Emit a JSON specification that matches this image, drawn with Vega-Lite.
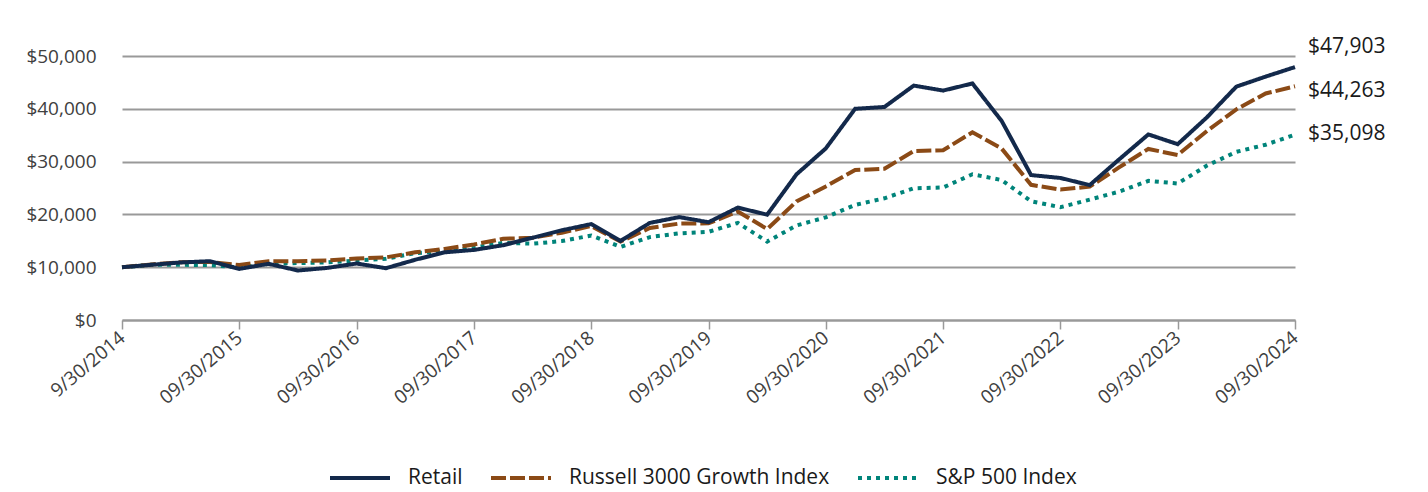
{
  "$schema": "https://vega.github.io/schema/vega-lite/v6.json",
  "width": 1173,
  "height": 264,
  "autosize": "none",
  "padding": {"left": 122, "top": 56, "right": 133, "bottom": 172},
  "background": "white",
  "config": {
    "view": {"stroke": null},
    "font": "Open Sans",
    "axis": {"labelFont": "Open Sans", "titleFont": "Open Sans"},
    "legend": {"labelFont": "Open Sans"}
  },
  "data": {
    "values": [
      {"date": "9/30/2014", "series": "S&P 500 Index", "value": 10000},
      {"date": "12/31/2014", "series": "S&P 500 Index", "value": 10450},
      {"date": "03/31/2015", "series": "S&P 500 Index", "value": 10450},
      {"date": "06/30/2015", "series": "S&P 500 Index", "value": 10400},
      {"date": "09/30/2015", "series": "S&P 500 Index", "value": 9940},
      {"date": "12/31/2015", "series": "S&P 500 Index", "value": 10640},
      {"date": "03/31/2016", "series": "S&P 500 Index", "value": 10780},
      {"date": "06/30/2016", "series": "S&P 500 Index", "value": 10900},
      {"date": "09/30/2016", "series": "S&P 500 Index", "value": 11250},
      {"date": "12/31/2016", "series": "S&P 500 Index", "value": 11600},
      {"date": "03/31/2017", "series": "S&P 500 Index", "value": 12650},
      {"date": "06/30/2017", "series": "S&P 500 Index", "value": 13100},
      {"date": "09/30/2017", "series": "S&P 500 Index", "value": 13700},
      {"date": "12/31/2017", "series": "S&P 500 Index", "value": 14600},
      {"date": "03/31/2018", "series": "S&P 500 Index", "value": 14450},
      {"date": "06/30/2018", "series": "S&P 500 Index", "value": 14950},
      {"date": "09/30/2018", "series": "S&P 500 Index", "value": 16000},
      {"date": "12/31/2018", "series": "S&P 500 Index", "value": 13850},
      {"date": "03/31/2019", "series": "S&P 500 Index", "value": 15700},
      {"date": "06/30/2019", "series": "S&P 500 Index", "value": 16400},
      {"date": "09/30/2019", "series": "S&P 500 Index", "value": 16700},
      {"date": "12/31/2019", "series": "S&P 500 Index", "value": 18400},
      {"date": "03/31/2020", "series": "S&P 500 Index", "value": 14850},
      {"date": "06/30/2020", "series": "S&P 500 Index", "value": 17900},
      {"date": "09/30/2020", "series": "S&P 500 Index", "value": 19450},
      {"date": "12/31/2020", "series": "S&P 500 Index", "value": 21800},
      {"date": "03/31/2021", "series": "S&P 500 Index", "value": 23050},
      {"date": "06/30/2021", "series": "S&P 500 Index", "value": 24950},
      {"date": "09/30/2021", "series": "S&P 500 Index", "value": 25100},
      {"date": "12/31/2021", "series": "S&P 500 Index", "value": 27600},
      {"date": "03/31/2022", "series": "S&P 500 Index", "value": 26500},
      {"date": "06/30/2022", "series": "S&P 500 Index", "value": 22500},
      {"date": "09/30/2022", "series": "S&P 500 Index", "value": 21350},
      {"date": "12/31/2022", "series": "S&P 500 Index", "value": 22800},
      {"date": "03/31/2023", "series": "S&P 500 Index", "value": 24300},
      {"date": "06/30/2023", "series": "S&P 500 Index", "value": 26350},
      {"date": "09/30/2023", "series": "S&P 500 Index", "value": 25850},
      {"date": "12/31/2023", "series": "S&P 500 Index", "value": 29250},
      {"date": "03/31/2024", "series": "S&P 500 Index", "value": 31850},
      {"date": "06/30/2024", "series": "S&P 500 Index", "value": 33200},
      {"date": "09/30/2024", "series": "S&P 500 Index", "value": 35098},
      {"date": "9/30/2014", "series": "Russell 3000 Growth Index", "value": 10000},
      {"date": "12/31/2014", "series": "Russell 3000 Growth Index", "value": 10520},
      {"date": "03/31/2015", "series": "Russell 3000 Growth Index", "value": 10950},
      {"date": "06/30/2015", "series": "Russell 3000 Growth Index", "value": 11000},
      {"date": "09/30/2015", "series": "Russell 3000 Growth Index", "value": 10400},
      {"date": "12/31/2015", "series": "Russell 3000 Growth Index", "value": 11140},
      {"date": "03/31/2016", "series": "Russell 3000 Growth Index", "value": 11140},
      {"date": "06/30/2016", "series": "Russell 3000 Growth Index", "value": 11270},
      {"date": "09/30/2016", "series": "Russell 3000 Growth Index", "value": 11650},
      {"date": "12/31/2016", "series": "Russell 3000 Growth Index", "value": 11860},
      {"date": "03/31/2017", "series": "Russell 3000 Growth Index", "value": 12820},
      {"date": "06/30/2017", "series": "Russell 3000 Growth Index", "value": 13460},
      {"date": "09/30/2017", "series": "Russell 3000 Growth Index", "value": 14300},
      {"date": "12/31/2017", "series": "Russell 3000 Growth Index", "value": 15380},
      {"date": "03/31/2018", "series": "Russell 3000 Growth Index", "value": 15580},
      {"date": "06/30/2018", "series": "Russell 3000 Growth Index", "value": 16540},
      {"date": "09/30/2018", "series": "Russell 3000 Growth Index", "value": 17800},
      {"date": "12/31/2018", "series": "Russell 3000 Growth Index", "value": 14850},
      {"date": "03/31/2019", "series": "Russell 3000 Growth Index", "value": 17430},
      {"date": "06/30/2019", "series": "Russell 3000 Growth Index", "value": 18260},
      {"date": "09/30/2019", "series": "Russell 3000 Growth Index", "value": 18300},
      {"date": "12/31/2019", "series": "Russell 3000 Growth Index", "value": 20550},
      {"date": "03/31/2020", "series": "Russell 3000 Growth Index", "value": 17220},
      {"date": "06/30/2020", "series": "Russell 3000 Growth Index", "value": 22450},
      {"date": "09/30/2020", "series": "Russell 3000 Growth Index", "value": 25300},
      {"date": "12/31/2020", "series": "Russell 3000 Growth Index", "value": 28400},
      {"date": "03/31/2021", "series": "Russell 3000 Growth Index", "value": 28650},
      {"date": "06/30/2021", "series": "Russell 3000 Growth Index", "value": 32000},
      {"date": "09/30/2021", "series": "Russell 3000 Growth Index", "value": 32150},
      {"date": "12/31/2021", "series": "Russell 3000 Growth Index", "value": 35550},
      {"date": "03/31/2022", "series": "Russell 3000 Growth Index", "value": 32450},
      {"date": "06/30/2022", "series": "Russell 3000 Growth Index", "value": 25600},
      {"date": "09/30/2022", "series": "Russell 3000 Growth Index", "value": 24700},
      {"date": "12/31/2022", "series": "Russell 3000 Growth Index", "value": 25250},
      {"date": "03/31/2023", "series": "Russell 3000 Growth Index", "value": 28900},
      {"date": "06/30/2023", "series": "Russell 3000 Growth Index", "value": 32400},
      {"date": "09/30/2023", "series": "Russell 3000 Growth Index", "value": 31250},
      {"date": "12/31/2023", "series": "Russell 3000 Growth Index", "value": 35800},
      {"date": "03/31/2024", "series": "Russell 3000 Growth Index", "value": 39900},
      {"date": "06/30/2024", "series": "Russell 3000 Growth Index", "value": 42900},
      {"date": "09/30/2024", "series": "Russell 3000 Growth Index", "value": 44263},
      {"date": "9/30/2014", "series": "Retail", "value": 10000},
      {"date": "12/31/2014", "series": "Retail", "value": 10450},
      {"date": "03/31/2015", "series": "Retail", "value": 10900},
      {"date": "06/30/2015", "series": "Retail", "value": 11140},
      {"date": "09/30/2015", "series": "Retail", "value": 9680},
      {"date": "12/31/2015", "series": "Retail", "value": 10640},
      {"date": "03/31/2016", "series": "Retail", "value": 9370},
      {"date": "06/30/2016", "series": "Retail", "value": 9870},
      {"date": "09/30/2016", "series": "Retail", "value": 10700},
      {"date": "12/31/2016", "series": "Retail", "value": 9810},
      {"date": "03/31/2017", "series": "Retail", "value": 11410},
      {"date": "06/30/2017", "series": "Retail", "value": 12820},
      {"date": "09/30/2017", "series": "Retail", "value": 13270},
      {"date": "12/31/2017", "series": "Retail", "value": 14170},
      {"date": "03/31/2018", "series": "Retail", "value": 15580},
      {"date": "06/30/2018", "series": "Retail", "value": 16990},
      {"date": "09/30/2018", "series": "Retail", "value": 18170},
      {"date": "12/31/2018", "series": "Retail", "value": 14980},
      {"date": "03/31/2019", "series": "Retail", "value": 18390},
      {"date": "06/30/2019", "series": "Retail", "value": 19490},
      {"date": "09/30/2019", "series": "Retail", "value": 18520},
      {"date": "12/31/2019", "series": "Retail", "value": 21290},
      {"date": "03/31/2020", "series": "Retail", "value": 19950},
      {"date": "06/30/2020", "series": "Retail", "value": 27580},
      {"date": "09/30/2020", "series": "Retail", "value": 32500},
      {"date": "12/31/2020", "series": "Retail", "value": 40000},
      {"date": "03/31/2021", "series": "Retail", "value": 40350},
      {"date": "06/30/2021", "series": "Retail", "value": 44400},
      {"date": "09/30/2021", "series": "Retail", "value": 43450},
      {"date": "12/31/2021", "series": "Retail", "value": 44800},
      {"date": "03/31/2022", "series": "Retail", "value": 37670},
      {"date": "06/30/2022", "series": "Retail", "value": 27450},
      {"date": "09/30/2022", "series": "Retail", "value": 26900},
      {"date": "12/31/2022", "series": "Retail", "value": 25550},
      {"date": "03/31/2023", "series": "Retail", "value": 30400},
      {"date": "06/30/2023", "series": "Retail", "value": 35150},
      {"date": "09/30/2023", "series": "Retail", "value": 33300},
      {"date": "12/31/2023", "series": "Retail", "value": 38400},
      {"date": "03/31/2024", "series": "Retail", "value": 44200},
      {"date": "06/30/2024", "series": "Retail", "value": 46100},
      {"date": "09/30/2024", "series": "Retail", "value": 47903}
    ]
  },
  "encoding": {
    "x": {
      "field": "date",
      "type": "ordinal",
      "sort": null,
      "scale": {"type": "point", "padding": 0},
      "axis": {
        "title": null,
        "values": ["9/30/2014", "09/30/2015", "09/30/2016", "09/30/2017", "09/30/2018", "09/30/2019", "09/30/2020", "09/30/2021", "09/30/2022", "09/30/2023", "09/30/2024"],
        "labelAngle": -40,
        "labelAlign": "right",
        "labelBaseline": "middle",
        "labelFontSize": 19,
        "labelColor": "#404040",
        "labelPadding": 6,
        "domainColor": "#999999",
        "domainWidth": 2,
        "tickColor": "#999999",
        "tickWidth": 1.5,
        "tickSize": 9,
        "grid": false,
        "labelOverlap": false,
        "labelBound": false
      }
    },
    "y": {
      "field": "value",
      "type": "quantitative",
      "scale": {"domain": [0, 50000], "nice": false, "zero": true},
      "axis": {
        "title": null,
        "values": [0, 10000, 20000, 30000, 40000, 50000],
        "format": "$,.0f",
        "labelFontSize": 19,
        "labelColor": "#404040",
        "labelPadding": 26,
        "domain": false,
        "ticks": false,
        "grid": true,
        "gridColor": "#999999",
        "gridWidth": 2
      }
    }
  },
  "layer": [
    {
      "mark": {"type": "line", "strokeWidth": 4, "strokeCap": "butt", "strokeJoin": "miter"},
      "encoding": {
        "color": {
          "field": "series",
          "type": "nominal",
          "scale": {
            "domain": ["Retail", "Russell 3000 Growth Index", "S&P 500 Index"],
            "range": ["#13294b", "#8b4a16", "#00847a"]
          },
          "legend": {
            "title": null,
            "orient": "none",
            "legendX": 206,
            "legendY": 390,
            "direction": "horizontal",
            "symbolType": "stroke",
            "symbolSize": 3600,
            "symbolStrokeWidth": 4,
            "labelFontSize": 21,
            "labelColor": "#1a1a1a",
            "labelOffset": 16,
            "labelLimit": 500,
            "columnPadding": 20,
            "padding": 0
          }
        },
        "strokeDash": {
          "field": "series",
          "type": "nominal",
          "scale": {
            "domain": ["Retail", "Russell 3000 Growth Index", "S&P 500 Index"],
            "range": [[1, 0], [15, 4], [4, 5]]
          },
          "legend": {
            "title": null,
            "orient": "none",
            "legendX": 206,
            "legendY": 390,
            "direction": "horizontal",
            "symbolType": "stroke",
            "symbolSize": 3600,
            "symbolStrokeWidth": 4,
            "labelFontSize": 21,
            "labelColor": "#1a1a1a",
            "labelOffset": 16,
            "labelLimit": 500,
            "columnPadding": 20,
            "padding": 0
          }
        }
      }
    },
    {
      "transform": [{"filter": "datum.date == '09/30/2024' && datum.series == 'Retail'"}],
      "mark": {"type": "text", "align": "left", "baseline": "middle", "dx": 13, "dy": -20, "fontSize": 21, "font": "Open Sans", "color": "#1a1a1a"},
      "encoding": {"text": {"field": "value", "type": "quantitative", "format": "$,.0f"}}
    },
    {
      "transform": [{"filter": "datum.date == '09/30/2024' && datum.series == 'Russell 3000 Growth Index'"}],
      "mark": {"type": "text", "align": "left", "baseline": "middle", "dx": 13, "dy": 5, "fontSize": 21, "font": "Open Sans", "color": "#1a1a1a"},
      "encoding": {"text": {"field": "value", "type": "quantitative", "format": "$,.0f"}}
    },
    {
      "transform": [{"filter": "datum.date == '09/30/2024' && datum.series == 'S&P 500 Index'"}],
      "mark": {"type": "text", "align": "left", "baseline": "middle", "dx": 13, "dy": -1, "fontSize": 21, "font": "Open Sans", "color": "#1a1a1a"},
      "encoding": {"text": {"field": "value", "type": "quantitative", "format": "$,.0f"}}
    }
  ]
}
